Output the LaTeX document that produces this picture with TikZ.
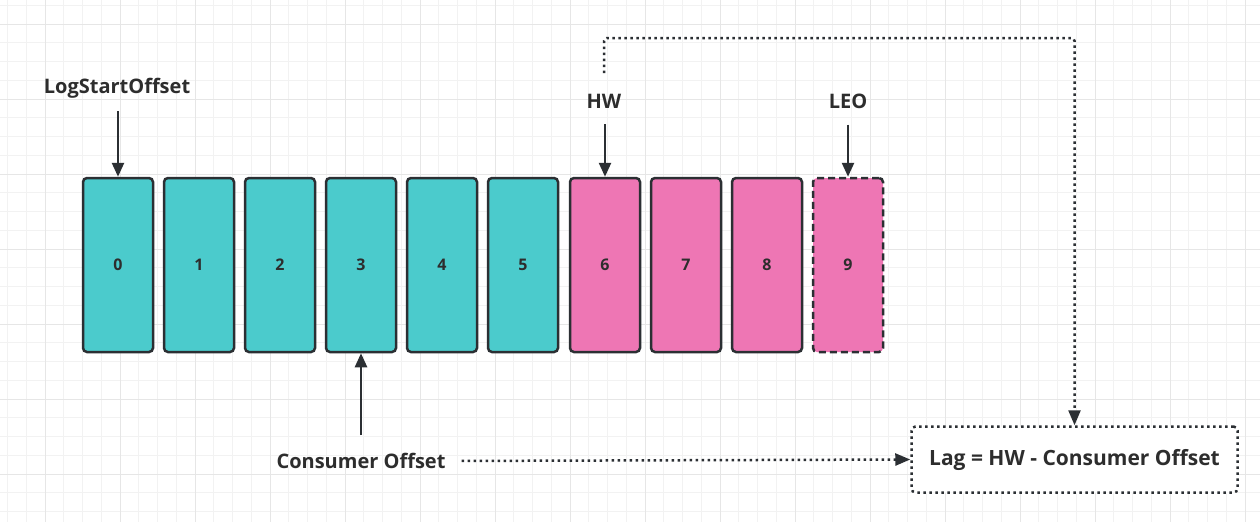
\documentclass[tikz,border=0pt]{standalone}
\usepackage{fontspec}
\setmainfont{Open Sans}
\usetikzlibrary{arrows.meta}
\definecolor{tealc}{HTML}{4BCBCC}
\definecolor{pinkc}{HTML}{EE76B4}
\definecolor{edgec}{HTML}{2B2F33}
\definecolor{txt}{HTML}{2D2D2D}
\definecolor{gminor}{HTML}{F2F2F2}
\definecolor{gmajor}{HTML}{E6E6E6}
\tikzset{
  cell/.style={draw=edgec, line width=2.5pt, rounded corners=4pt, minimum width=70pt, minimum height=174pt, inner sep=0pt, font=\fontsize{16}{18}\selectfont\bfseries, text=txt},
  lbl/.style={inner sep=0pt, font=\fontsize{20}{22}\selectfont\bfseries, text=txt},
  arr/.style={draw=edgec, line width=2.5pt, -{Triangle[length=14pt,width=12pt]}},
  dotarr/.style={draw=edgec, line width=2.5pt, dash pattern=on 2.5pt off 3.5pt, -{Triangle[length=15pt,width=12pt]}},
  lagbox/.style={draw=edgec, line width=2.5pt, dash pattern=on 2.5pt off 3.5pt, rounded corners=4pt, fill=white, minimum width=326pt, minimum height=66pt, inner sep=0pt, font=\fontsize{21}{23}\selectfont\bfseries, text=txt}
}
\begin{document}
\begin{tikzpicture}[x=1pt,y=-1pt]
\useasboundingbox (0,0) rectangle (1260,522);
\fill[white] (0,0) rectangle (1260,522);
% grid
\foreach \i in {0,...,67} {\draw[gminor, line width=1pt] ({7.5+18.75*\i},0) -- ({7.5+18.75*\i},522);}
\foreach \i in {0,...,28} {\draw[gminor, line width=1pt] (0,{5.25+18.75*\i}) -- (1260,{5.25+18.75*\i});}
\foreach \i in {0,...,16} {\draw[gmajor, line width=1pt] ({45+75*\i},0) -- ({45+75*\i},522);}
\foreach \i in {0,...,6} {\draw[gmajor, line width=1pt] (0,{24+75*\i}) -- (1260,{24+75*\i});}
% cells
\node[cell, fill=tealc] (c0) at (118,265) {0};
\node[cell, fill=tealc] (c1) at (199,265) {1};
\node[cell, fill=tealc] (c2) at (280,265) {2};
\node[cell, fill=tealc] (c3) at (361,265) {3};
\node[cell, fill=tealc] (c4) at (442,265) {4};
\node[cell, fill=tealc] (c5) at (523,265) {5};
\node[cell, fill=pinkc] (c6) at (605,265) {6};
\node[cell, fill=pinkc] (c7) at (686,265) {7};
\node[cell, fill=pinkc] (c8) at (767,265) {8};
\node[cell, fill=pinkc, dash pattern=on 7pt off 4pt] (c9) at (848,265) {9};
% labels
\node[lbl] (lso) at (117,88) {LogStartOffset};
\node[lbl] (hw) at (604,101) {HW};
\node[lbl] (leo) at (848,101) {LEO};
\node[lbl] (cons) at (361,461) {Consumer Offset};
\node[lagbox] (lag) at (1074.5,459.5) {Lag = HW - Consumer Offset};
% arrows
\draw[arr, shorten <=13pt] (c0.north |- lso.south) -- (c0.north);
\draw[arr, shorten <=16pt] (c6.north |- hw.south) -- (c6.north);
\draw[arr, shorten <=16pt] (leo.south) -- (c9.north);
\draw[arr, shorten <=18pt] (cons.north) -- (c3.south);
\draw[dotarr, shorten <=16pt] (cons.east) -- (lag.west);
\coordinate (hwtop) at (604,73);
\coordinate (bend) at (1074.5,38);
\draw[dotarr, rounded corners=3pt] (hwtop) |- (bend) -- (lag.north);
\end{tikzpicture}
\end{document}
